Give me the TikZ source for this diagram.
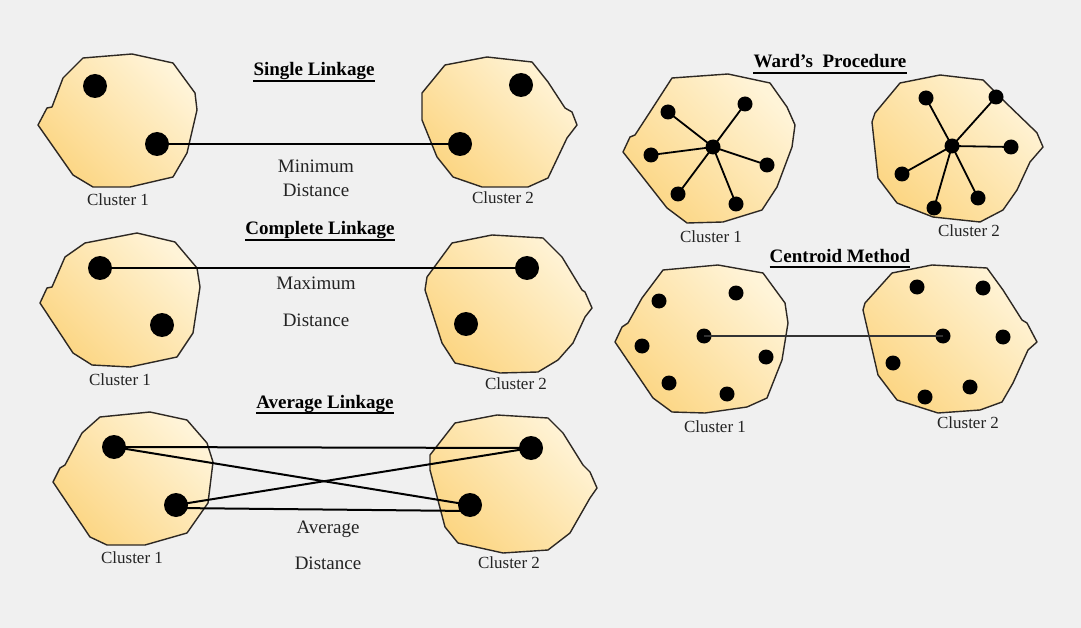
\documentclass[tikz,border=0pt]{standalone}
\usepackage{fontspec}
\setmainfont{Liberation Serif}
\definecolor{bg}{RGB}{240,240,240}
\definecolor{clLight}{RGB}{255,244,216}
\definecolor{clDark}{RGB}{252,214,132}
\definecolor{rim}{RGB}{45,40,35}
\definecolor{ink}{RGB}{35,35,35}

\begin{document}
\begin{tikzpicture}[x=1pt,y=-1pt,
  blob/.style={draw=rim, line width=1.4, line join=round,
               top color=clLight, bottom color=clDark, shading angle=-45},
  dot/.style={circle, fill=black, inner sep=0, minimum size=24},
  sdot/.style={circle, fill=black, inner sep=0, minimum size=15},
  link/.style={line width=2, draw=black},
  spoke/.style={line width=1.8, draw=black},
  title/.style={font=\fontsize{19}{23}\selectfont\bfseries, inner sep=0, anchor=base},
  caption/.style={font=\fontsize{17}{21}\selectfont, inner sep=0, anchor=base, text=ink},
  note/.style={font=\fontsize{19}{23}\selectfont, inner sep=0, anchor=base, text=ink},
  uline/.style={line width=1.8, draw=black},
]
\useasboundingbox (0,0) rectangle (1081,628);
\fill[bg] (0,0) rectangle (1081,628);

% ---------- Single linkage ----------
\path[blob] (83,58) -- (132,54) -- (173,63) -- (195,93) -- (197,110) -- (187,153) -- (173,177) -- (130,187) -- (93,187) -- (73,175) -- (38,125) -- (47,108) -- (52,107) -- (63,78) -- cycle;
\path[blob] (445,65) -- (487,57) -- (532,62) -- (548,82) -- (565,108) -- (572,112) -- (577,125) -- (567,138) -- (548,178) -- (528,187) -- (482,187) -- (453,177) -- (437,157) -- (422,120) -- (422,93) -- cycle;
\node[dot] (s1a) at (95,86) {};
\node[dot] (s1b) at (157,144) {};
\node[dot] (s2a) at (521,85) {};
\node[dot] (s2b) at (460,144) {};
\draw[link] (s1b.center) -- (s2b.center);
\node[title] (t1) at (314,76) {Single Linkage};
\draw[uline] ([yshift=-5pt]t1.base west) -- ([yshift=-5pt]t1.base east);
\node[note] at (316,173) {Minimum};
\node[note] at (316,197) {Distance};
\node[caption] at (118,206) {Cluster 1};
\node[caption] at (503,204) {Cluster 2};

% ---------- Complete linkage ----------
\path[blob] (85,243) -- (137,233) -- (175,242) -- (197,268) -- (200,287) -- (193,333) -- (177,357) -- (130,367) -- (92,365) -- (73,353) -- (40,303) -- (47,288) -- (52,287) -- (65,257) -- cycle;
\path[blob] (452,243) -- (492,235) -- (543,238) -- (562,257) -- (582,290) -- (585,292) -- (592,308) -- (585,317) -- (573,343) -- (558,360) -- (538,372) -- (500,373) -- (455,363) -- (442,343) -- (425,290) -- (427,277) -- cycle;
\node[dot] (c1a) at (100,268) {};
\node[dot] (c1b) at (162,325) {};
\node[dot] (c2a) at (527,268) {};
\node[dot] (c2b) at (466,324) {};
\draw[link] (c1a.center) -- (c2a.center);
\node[title] (t2) at (320,235) {Complete Linkage};
\draw[uline] ([yshift=-5pt]t2.base west) -- ([yshift=-5pt]t2.base east);
\node[note] at (316,290) {Maximum};
\node[note] at (316,326) {Distance};
\node[caption] at (120,385) {Cluster 1};
\node[caption] at (516,389) {Cluster 2};

% ---------- Average linkage ----------
\path[blob] (100,417) -- (150,412) -- (187,420) -- (207,443) -- (213,462) -- (208,503) -- (187,533) -- (145,545) -- (107,545) -- (90,537) -- (53,482) -- (60,468) -- (65,465) -- (82,433) -- cycle;
\path[blob] (455,423) -- (497,415) -- (548,418) -- (563,433) -- (583,465) -- (590,472) -- (597,488) -- (590,498) -- (570,533) -- (548,550) -- (503,553) -- (458,543) -- (445,527) -- (430,470) -- (430,455) -- cycle;
\node[dot] (a1a) at (114,447) {};
\node[dot] (a1b) at (176,505) {};
\node[dot] (a2a) at (531,448) {};
\node[dot] (a2b) at (470,505) {};
\draw[link] (a1a.center) -- (a2a.center);
\draw[link] (a1a.center) -- (a2b.center);
\draw[link] (a1b.center) -- (a2a.center);
\draw[link] ([yshift=-3pt]a1b.center) -- ([yshift=-6pt]a2b.center);
\node[title] (t3) at (325,408) {Average Linkage};
\draw[uline] ([yshift=-5pt]t3.base west) -- ([yshift=-5pt]t3.base east);
\node[note] at (328,533) {Average};
\node[note] at (328,569) {Distance};
\node[caption] at (132,563) {Cluster 1};
\node[caption] at (509,568) {Cluster 2};

% ---------- Ward's procedure ----------
\path[blob] (672,78) -- (728,74) -- (770,83) -- (787,107) -- (795,125) -- (792,147) -- (777,187) -- (762,210) -- (723,222) -- (687,223) -- (667,208) -- (623,152) -- (630,137) -- (635,135) -- (650,112) -- cycle;
\path[blob] (900,83) -- (940,75) -- (983,80) -- (1003,100) -- (1032,128) -- (1037,133) -- (1043,147) -- (1030,162) -- (1017,190) -- (1003,210) -- (980,222) -- (933,217) -- (897,203) -- (878,178) -- (872,122) -- (875,113) -- cycle;
\node[sdot] (w1c) at (713,147) {};
\foreach \n/\p in {1/{(668,112)}, 2/{(745,104)}, 3/{(651,155)}, 4/{(767,165)}, 5/{(678,194)}, 6/{(736,204)}}{
  \node[sdot] (w1p\n) at \p {};
  \draw[spoke] (w1c.center) -- (w1p\n.center);
}
\node[sdot] (w2c) at (952,146) {};
\foreach \n/\p in {1/{(926,98)}, 2/{(996,97)}, 3/{(1011,147)}, 4/{(902,174)}, 5/{(978,198)}, 6/{(934,208)}}{
  \node[sdot] (w2p\n) at \p {};
  \draw[spoke] (w2c.center) -- (w2p\n.center);
}
\node[title] (t4) at (830,68) {Ward’s\ \ Procedure};
\draw[uline] ([yshift=-5pt]t4.base west) -- ([yshift=-5pt]t4.base east);
\node[caption] at (711,243) {Cluster 1};
\node[caption] at (969,237) {Cluster 2};

% ---------- Centroid method ----------
\path[blob] (663,270) -- (718,265) -- (763,273) -- (785,303) -- (788,323) -- (782,360) -- (767,398) -- (747,407) -- (705,413) -- (672,412) -- (653,398) -- (615,342) -- (622,327) -- (628,323) -- (642,298) -- cycle;
\path[blob] (892,273) -- (932,265) -- (987,268) -- (1003,290) -- (1022,320) -- (1027,323) -- (1037,342) -- (1028,350) -- (1013,383) -- (1002,402) -- (980,410) -- (938,413) -- (897,400) -- (878,375) -- (863,310) -- (865,303) -- cycle;
\foreach \n/\p in {1/{(659,301)}, 2/{(736,293)}, 3/{(642,346)}, 4/{(766,357)}, 5/{(669,383)}, 6/{(727,394)}}{
  \node[sdot] (m1p\n) at \p {};
}
\foreach \n/\p in {1/{(917,287)}, 2/{(983,288)}, 3/{(1003,337)}, 4/{(893,363)}, 5/{(970,387)}, 6/{(925,397)}}{
  \node[sdot] (m2p\n) at \p {};
}
\node[sdot] (m1c) at (704,336) {};
\node[sdot] (m2c) at (943,336) {};
\draw[link, draw=black!80] (m1c.center) -- (m2c.center);
\node[title] (t5) at (840,262) {Centroid Method};
\draw[uline] ([yshift=-5pt]t5.base west) -- ([yshift=-5pt]t5.base east);
\node[caption] at (715,432) {Cluster 1};
\node[caption] at (968,428) {Cluster 2};
\end{tikzpicture}
\end{document}
